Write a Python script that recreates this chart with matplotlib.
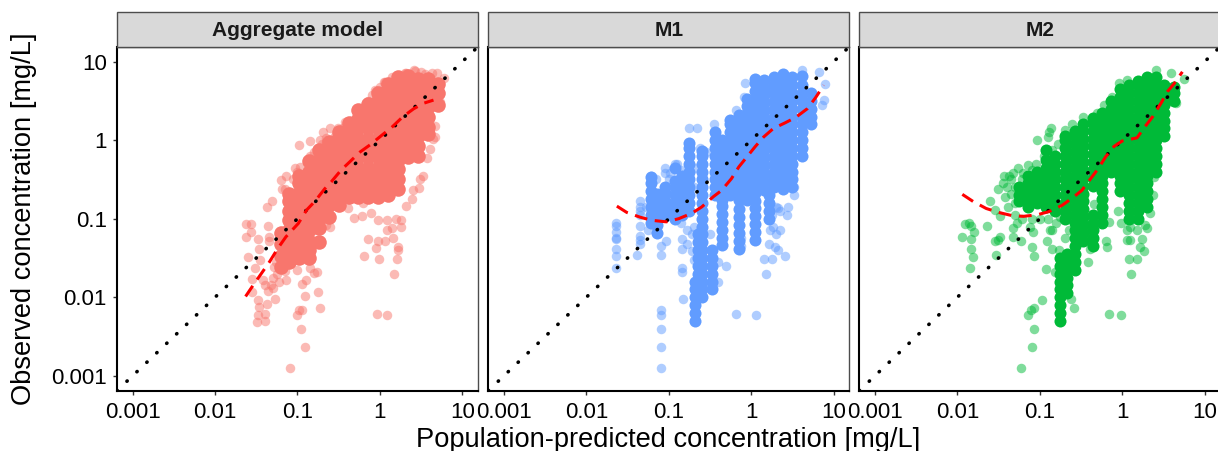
import matplotlib
matplotlib.use("Agg")
import matplotlib.pyplot as plt
from matplotlib.patches import Rectangle

plt.rcParams['font.family'] = ['Liberation Sans', 'DejaVu Sans']

# All concentrations below are log10(mg/L).
panel_titles = ["Aggregate model", "M1", "M2"]
panel_colors = ["#F8766D", "#619CFF", "#00BA38"]
tick_values = [0.001, 0.01, 0.1, 1, 10]
tick_labels = ["0.001", "0.01", "0.1", "1", "10"]
x_title = "Population-predicted concentration [mg/L]"
y_title = "Observed concentration [mg/L]"
axis_low, axis_high = -3.19, 1.19

# Single, visible points
agg_x = [-1.63,-1.57,-1.57,-1.63,-1.48,-1.47,-1.60,-1.46,-1.52,-1.55,-1.55,-1.48,-1.47,-1.48,-1.49,-1.39,-1.40,-1.37,-1.27,-1.36,-1.34,-1.35,-1.31,-1.37,-0.98,-0.85,-1.20,-1.14,-1.19,-1.03,-0.91,-0.95,-0.90,-0.75,-0.73,-0.98,-0.94,-1.00,-0.96,-0.91,-1.09,-0.03,0.09,-0.15,-0.19,-0.01,-0.05,-0.02,0.06,0.17,0.21,0.22,0.22,0.16,0.08,0.15,0.20,0.26,0.26,0.09,-0.02,-0.11,-0.22,-0.32,0.32,0.39,0.40,0.47,0.52,0.49,0.57,0.61,0.67,0.64,0.67,-0.80,-0.76,-0.85,-1.01,-1.14,-1.15,-0.61,-0.65,-0.51,-0.39,-0.21,-0.69,-0.60,-0.51,-0.42,-0.66,-0.73,-0.86,-0.75,-0.97,-0.20,-0.06,0.06,0.41,0.32,0.22,0.63,0.69,0.78,0.73,0.71,-1.40,-1.36,-1.32,-1.30,-1.28,-1.30,-1.42,-1.26,-1.25,-1.22,-1.15,-1.12,-1.05,-1.00,-0.95,-0.85,-0.80,-0.70,-0.65,-0.55,-0.45,-0.35,-0.15,-0.10,0.00,0.05,0.15,0.50,0.55,0.30,0.42]
agg_y = [-1.07,-1.07,-1.17,-1.23,-1.26,-1.39,-1.49,-1.53,-1.63,-1.77,-1.93,-2.04,-2.12,-2.23,-2.32,-2.30,-2.21,-2.08,-2.02,-1.09,-1.23,-1.29,-0.78,-0.85,-0.06,-0.01,-0.51,-0.45,-0.62,-0.35,-1.99,-1.83,-1.78,-1.93,-2.14,-2.16,-2.16,-2.23,-2.40,-2.63,-2.90,-2.21,-2.23,-1.26,-1.48,-1.51,-1.37,-1.29,-1.28,-1.70,-1.51,-1.40,-1.36,-1.25,-1.15,-1.12,-1.00,-1.11,-1.02,-1.02,-1.02,-0.93,-0.96,-0.99,-0.84,-0.75,-0.64,-0.61,-0.45,-0.49,-0.23,-0.11,0.04,0.01,0.18,-1.69,-1.68,-1.63,-1.65,-1.78,-1.67,-1.11,-1.08,-0.85,-0.87,-0.80,0.11,0.16,0.16,0.23,0.03,0.00,-0.25,-0.13,-0.34,0.40,0.64,0.74,0.89,0.85,0.81,0.85,0.86,0.79,0.49,0.59,-1.85,-1.92,-1.85,-1.75,-1.62,-1.88,-1.78,-1.55,-1.70,-1.80,-0.62,-0.70,-0.50,-0.40,-0.50,-0.20,-0.15,-0.05,-0.02,0.05,0.15,0.25,0.50,0.58,0.68,0.74,0.80,0.87,0.84,0.86,0.88]

# Overplotted solid mass, one column of values per predicted concentration
agg_core_x = [-1.20,-1.10,-0.98,-0.86,-0.74,-0.62,-0.50,-0.38,-0.26,-0.14,-0.02,0.10,0.22,0.34,0.46,0.58,0.70]
agg_core_y = [
    [-1.62,-1.48,-1.32,-1.18],
    [-1.55,-1.40,-1.27,-1.15,-1.02,-0.90,-0.78,-0.68],
    [-1.50,-1.42,-1.30,-1.17,-1.05,-0.92,-0.80,-0.67,-0.55,-0.45],
    [-1.50,-1.40,-1.28,-1.15,-1.03,-0.90,-0.78,-0.65,-0.53,-0.40,-0.27],
    [-1.30,-1.12,-1.00,-0.87,-0.75,-0.62,-0.50,-0.38,-0.25,-0.12],
    [-0.98,-0.83,-0.70,-0.58,-0.45,-0.33,-0.20,-0.10,-0.02],
    [-0.82,-0.68,-0.55,-0.43,-0.30,-0.18,-0.06,0.04,0.10],
    [-0.72,-0.60,-0.47,-0.35,-0.22,-0.10,0.02,0.12,0.22],
    [-0.72,-0.60,-0.47,-0.35,-0.22,-0.10,0.02,0.15,0.27,0.38],
    [-0.72,-0.60,-0.47,-0.35,-0.22,-0.10,0.02,0.15,0.27,0.36,0.46],
    [-0.72,-0.60,-0.47,-0.35,-0.22,-0.10,0.02,0.15,0.27,0.40,0.50,0.60],
    [-0.70,-0.58,-0.45,-0.33,-0.20,-0.08,0.05,0.17,0.30,0.42,0.54,0.62,0.72],
    [-0.62,-0.50,-0.37,-0.25,-0.12,0.00,0.13,0.25,0.38,0.50,0.62,0.70,0.80],
    [-0.22,-0.12,0.00,0.13,0.25,0.38,0.50,0.62,0.74,0.82],
    [-0.20,-0.08,0.05,0.17,0.30,0.42,0.55,0.67,0.78],
    [0.08,0.17,0.30,0.42,0.55,0.67,0.78],
    [0.45,0.60,0.72],
]
agg_line_x = [-1.63,-1.54,-1.44,-1.34,-1.24,-1.14,-0.99,-0.89,-0.79,-0.67,-0.59,-0.47,-0.37,-0.24,-0.12,0.02,0.14,0.28,0.41,0.53,0.65]
agg_line_y = [-1.99,-1.85,-1.70,-1.55,-1.38,-1.23,-1.06,-0.89,-0.78,-0.62,-0.53,-0.38,-0.28,-0.15,-0.06,0.06,0.16,0.30,0.40,0.47,0.51]

m1_x = [-1.64,-1.64,-1.64,-1.64,-1.64,-1.64,-1.64,-1.64,-1.35,-1.35,-1.35,-1.35,-1.35,-1.35,-1.35,-1.35,-1.39,-1.09,-1.09,-1.09,-1.09,-1.09,-1.09,-1.09,-1.04,-0.83,-0.84,-0.84,-0.84,-0.84,-0.78,-0.72,-0.69,-0.18,0.06,0.18,0.16,0.25,0.41,0.32,0.29,0.21,0.23,0.35,0.43,0.33,0.52,-0.08,-0.09,-0.19,-0.66,-0.75,-0.45,0.62,0.82,0.88,0.86,0.90,-1.25,-1.15,-0.64,-0.90,-1.05,-1.05,-1.22,-1.28,-1.15,-1.00,-0.98,-0.92,-0.85,-0.70,-0.68,-0.62,-0.55,-0.40,-0.30,-0.40,-0.50,-0.72,-0.70,-0.78,-0.85,-0.12,-0.12,0.30,0.27,0.35,0.45,0.52,0.30,0.25]
m1_y = [-1.06,-1.09,-1.17,-1.24,-1.26,-1.39,-1.48,-1.63,-0.78,-0.85,-0.90,-0.95,-1.09,-1.22,-1.27,-1.32,-1.46,-2.16,-2.23,-2.40,-2.63,-2.90,-1.35,-1.46,-1.29,-2.02,-1.63,-1.68,-1.26,-1.39,-1.32,-1.41,-1.53,-2.21,-2.23,-1.70,-1.51,-1.51,-1.48,-1.40,-1.36,-1.32,-1.15,-1.15,-0.95,-0.87,-0.70,0.73,0.55,0.38,0.16,0.15,0.21,0.89,0.87,0.51,0.45,0.72,-1.15,-1.10,-1.32,-0.30,-0.36,-0.42,-0.45,-0.85,-0.50,-0.50,-0.42,-0.30,-0.38,-0.60,-0.35,-0.10,-0.15,-1.55,-1.60,-1.80,-1.20,-1.20,-1.10,-1.15,-1.05,-1.25,-1.35,-1.20,-1.10,-0.90,-0.85,-0.60,-0.85,-0.95]
m1_core_x = [-1.22,-1.14,-1.05,-0.92,-0.84,-0.75,-0.68,-0.64,-0.60,-0.48,-0.44,-0.35,-0.26,-0.15,-0.05,0.05,0.16,0.21,0.28,0.39,0.50,0.62,0.72]
m1_core_y = [
    [-1.05,-0.95,-0.85,-0.75,-0.65,-0.55,-0.47],
    [-1.18,-1.08,-0.98,-0.88,-0.78,-0.68],
    [-0.97,-0.87,-0.77,-0.67,-0.60],
    [-1.00,-0.90,-0.80,-0.70,-0.60,-0.52,-0.36],
    [-0.95,-0.85,-0.75,-0.65,-0.55,-0.45],
    [-0.90,-0.80,-0.70,-0.60,-0.50,-0.40,-0.30,-0.20,-0.10,-0.04],
    [-2.30,-2.20,-2.10,-2.00,-1.90,-1.80],
    [-1.90,-1.80,-1.70,-1.60,-1.50,-1.40,-1.30,-1.20],
    [-2.00,-1.90,-1.80,-1.70,-1.60,-1.50,-1.40,-1.30,-1.20,-1.10,-1.00,-0.90,-0.80,-0.70,-0.60,-0.50,-0.40,-0.30,-0.20,-0.14],
    [-1.90,-1.80,-1.70,-1.60,-1.50,-1.40],
    [-0.70,-0.60,-0.50,-0.40,-0.30,-0.20,-0.10,0.00,0.10],
    [-1.34,-1.24,-1.14,-1.04,-0.94,-0.84,-0.76,-0.68,-0.58,-0.48,-0.38,-0.28,-0.18,-0.08,0.00],
    [-0.70,-0.60,-0.50,-0.40,-0.30,-0.20,-0.10,0.00,0.10,0.20,0.26],
    [-1.38,-1.28,-1.18,-1.08,-0.98,-0.88,-0.76,-0.66,-0.56,-0.46,-0.36,-0.26,-0.16,-0.06,0.04,0.14,0.24,0.32],
    [-0.76,-0.66,-0.56,-0.46,-0.36,-0.26,-0.16,-0.06,0.04,0.14,0.24,0.34,0.44,0.52],
    [-1.27,-1.17,-1.07,-0.97,-0.87,-0.77,-0.67,-0.57,-0.47,-0.37,-0.27,-0.17,-0.07,0.03,0.13,0.23,0.33,0.43,0.53,0.63,0.73,0.78],
    [-0.63,-0.53,-0.43,-0.33,-0.23,-0.13,-0.03,0.07,0.17,0.27,0.37,0.47,0.57,0.67,0.76],
    [-1.00,-0.90,-0.80,-0.70],
    [-0.60,-0.50,-0.40,-0.30,-0.20,-0.10,0.00,0.10,0.20,0.30,0.40,0.50,0.60,0.70,0.80],
    [-0.62,-0.52,-0.42,-0.32,-0.22,-0.12,-0.02,0.08,0.18,0.28,0.38,0.48,0.58,0.68,0.78,0.84],
    [-0.60,-0.50,-0.40,-0.30,-0.20,-0.10,0.00,0.10,0.20,0.30,0.40,0.50,0.60,0.70,0.80],
    [-0.20,-0.10,0.00,0.10,0.20,0.30,0.40,0.50,0.60,0.70,0.82],
    [0.20,0.30,0.40,0.50,0.60],
]
m1_line_x = [-1.63,-1.51,-1.35,-1.21,-1.03,-0.88,-0.72,-0.60,-0.46,-0.36,-0.24,-0.15,-0.05,0.05,0.15,0.27,0.41,0.54,0.68,0.78,0.88]
m1_line_y = [-0.84,-0.92,-0.98,-1.02,-1.04,-1.00,-0.93,-0.85,-0.72,-0.64,-0.49,-0.34,-0.21,-0.08,0.04,0.15,0.22,0.29,0.40,0.54,0.70]

m2_x = [-1.91,-1.86,-1.83,-1.80,-1.94,-1.84,-1.83,-1.81,-1.85,-1.64,-1.61,-1.54,-1.48,-1.51,-1.43,-1.37,-1.33,-1.27,-1.14,-1.03,-0.90,-0.87,-0.89,-1.48,-1.54,-1.51,-1.53,-1.32,-1.23,-1.10,-1.07,-1.08,-1.12,-0.88,-0.91,-0.85,-0.77,-0.92,-0.82,-0.97,-1.07,-1.11,-1.14,-1.07,-1.09,-1.23,-0.16,-0.01,-0.59,-0.62,0.11,0.18,0.08,0.26,0.22,0.24,0.06,0.10,0.06,0.30,0.34,0.37,0.39,-0.19,-0.20,-0.39,-0.16,-0.24,-0.34,-0.04,0.06,-0.12,-0.22,-0.30,-0.47,-0.61,-0.69,0.41,0.59,0.75,0.65,0.61,-1.45,-1.40,-1.35,-1.42,-1.35,-1.30,-1.30,-1.38,-1.30,-1.22,-1.28,-1.33,-1.22,-1.20,-1.10,-1.05,-0.95,-0.85,-0.78,-0.90,-0.80,-0.85,-1.00,-1.10,-0.75,-0.65,-0.70,-0.42,-0.05,-0.02,0.10,0.18,0.28]
m2_y = [-1.07,-1.06,-1.09,-1.17,-1.23,-1.26,-1.39,-1.49,-1.63,-1.09,-0.78,-0.89,-0.96,-0.62,-0.45,-0.45,-0.42,-0.35,-0.32,0.00,0.04,0.15,0.11,-1.23,-1.29,-1.27,-1.46,-1.23,-1.29,-1.36,-1.47,-1.17,-1.10,-1.14,-1.29,-1.38,-1.40,-1.64,-1.68,-2.03,-2.14,-2.16,-2.23,-2.40,-2.63,-2.90,-2.21,-2.23,-2.14,-2.02,-1.70,-1.51,-1.51,-1.41,-1.36,-1.26,-1.27,-1.27,-1.15,-1.12,-0.93,-0.70,-0.47,-1.36,-1.29,-1.38,-1.04,-0.89,-0.81,0.73,0.77,0.55,0.45,0.34,0.30,0.20,0.13,0.89,0.86,0.78,0.47,0.57,-0.55,-0.60,-0.50,-0.72,-0.68,-0.60,-0.80,-0.85,-0.95,-1.00,-1.05,-1.12,-0.50,-0.42,-0.38,-0.30,-0.20,-0.12,-0.05,-1.00,-1.05,-1.15,-1.00,-1.00,-0.98,-1.15,-1.25,-1.55,-0.90,-1.05,-1.10,-1.15,-1.08]
m2_core_x = [-1.25,-1.14,-1.03,-0.92,-0.81,-0.76,-0.70,-0.67,-0.57,-0.48,-0.36,-0.25,-0.14,-0.03,0.08,0.19,0.30,0.41,0.51,0.63]
m2_core_y = [
    [-0.78,-0.70,-0.60],
    [-0.85,-0.75,-0.65,-0.55,-0.45],
    [-0.80,-0.70,-0.60,-0.50,-0.40],
    [-0.85,-0.75,-0.65,-0.55,-0.45,-0.35,-0.25,-0.12],
    [-0.90,-0.80,-0.70,-0.60,-0.50,-0.40,-0.30,-0.20],
    [-2.30,-2.20,-2.10,-2.00,-1.90,-1.80,-1.70,-1.60,-1.50],
    [-1.00,-0.90,-0.80,-0.70,-0.60,-0.50,-0.40,-0.30,-0.20,-0.10,0.00,0.05],
    [-1.95,-1.85,-1.75,-1.65,-1.55,-1.45],
    [-1.65,-1.55,-1.45,-1.35,-1.25,-1.15,-1.05,-0.95,-0.85,-0.75,-0.65,-0.55,-0.45,-0.35,-0.25,-0.15,-0.05,0.05,0.12],
    [-1.28,-1.18,-1.08,-0.98,-0.88,-0.78,-0.68,-0.58,-0.48,-0.38,-0.28,-0.18,-0.08,0.02,0.12,0.20],
    [-1.35,-1.25,-1.15,-1.05,-0.95,-0.58,-0.48,-0.38,-0.28,-0.18,-0.08,0.02,0.12,0.22,0.28],
    [-1.05,-0.95,-0.85,-0.75,-0.65,-0.55,-0.45,-0.35,-0.25,-0.15,-0.05,0.05,0.15,0.25,0.35],
    [-0.40,-0.30,-0.20,-0.10,0.00,0.10,0.20,0.30,0.40,0.50],
    [-0.65,-0.55,-0.45,-0.35,-0.25,-0.15,-0.05,0.05,0.15,0.25,0.35,0.45,0.55,0.65],
    [-1.00,-0.90,-0.80,-0.70,-0.60,-0.50,-0.40,-0.30,-0.20,-0.10,0.00,0.10,0.20,0.30,0.40,0.50,0.60,0.70],
    [-1.00,-0.90,-0.80,-0.70,-0.60,-0.50,-0.40,-0.30,-0.20,-0.10,0.00,0.10,0.20,0.30,0.40,0.50,0.60,0.70,0.75],
    [-0.85,-0.75,-0.65,-0.55,-0.45,-0.35,-0.25,-0.15,-0.05,0.05,0.15,0.25,0.35,0.45,0.55,0.65,0.75,0.80],
    [-0.40,-0.30,-0.20,-0.10,0.00,0.10,0.20,0.30,0.40,0.50,0.60,0.70,0.80],
    [0.05,0.15,0.25,0.35,0.45,0.55,0.65,0.70],
    [0.50,0.60,0.68],
]
m2_line_x = [-1.94,-1.81,-1.65,-1.50,-1.34,-1.20,-1.03,-0.89,-0.73,-0.61,-0.49,-0.39,-0.29,-0.20,-0.10,0.00,0.18,0.26,0.37,0.47,0.55,0.63,0.73]
m2_line_y = [-0.69,-0.78,-0.87,-0.92,-0.96,-0.97,-0.95,-0.91,-0.83,-0.74,-0.64,-0.50,-0.36,-0.21,-0.08,-0.01,0.03,0.15,0.30,0.47,0.62,0.72,0.87]

point_x = [agg_x, m1_x, m2_x]
point_y = [agg_y, m1_y, m2_y]
core_x = [agg_core_x, m1_core_x, m2_core_x]
core_y = [agg_core_y, m1_core_y, m2_core_y]
line_x = [agg_line_x, m1_line_x, m2_line_x]
line_y = [agg_line_y, m1_line_y, m2_line_y]

W, H = 1218, 451
fig = plt.figure(figsize=(W / 100, H / 100), dpi=100)
lefts = [117, 488.3, 859.3]
pw, top, bottom = 361, 46.7, 390.7
border = "#4D4D4D"

for i, left in enumerate(lefts):
    ax = fig.add_axes([left / W, 1 - bottom / H, pw / W, (bottom - top) / H])
    ax.set_xscale("log")
    ax.set_yscale("log")
    ax.set_xlim(10 ** axis_low, 10 ** axis_high)
    ax.set_ylim(10 ** axis_low, 10 ** axis_high)

    ax.scatter([10 ** v for v in point_x[i]], [10 ** v for v in point_y[i]],
               s=47, color=panel_colors[i], alpha=0.5, linewidths=0, zorder=2)
    cx = [10 ** x for x, ys in zip(core_x[i], core_y[i]) for _ in ys]
    cy = [10 ** y for ys in core_y[i] for y in ys]
    ax.scatter(cx, cy, s=(110 if i == 0 else 75), color=panel_colors[i], linewidths=0, zorder=3)

    ax.plot([10 ** axis_low, 10 ** axis_high], [10 ** axis_low, 10 ** axis_high],
            color="black", lw=2.6, linestyle=(0, (0.1, 3.7)),
            dash_capstyle="round", zorder=4)
    ax.plot([10 ** v for v in line_x[i]], [10 ** v for v in line_y[i]],
            color="red", lw=2.2, linestyle=(0, (4.2, 2.5)), zorder=5)

    ax.set_xticks(tick_values)
    ax.set_xticklabels(tick_labels)
    ax.set_yticks(tick_values)
    ax.set_yticklabels(tick_labels if i == 0 else [])
    ax.minorticks_off()
    ax.tick_params(axis="x", labelsize=16, length=3, width=1, color="#333333", pad=5, labelcolor="black")
    ax.tick_params(axis="y", labelsize=16, length=3 if i == 0 else 0, width=1, color="#333333", pad=4.3, labelcolor="black")
    for name, sp in ax.spines.items():
        sp.set_linewidth(1.5 if name in ("left", "bottom") else 1.0)
        sp.set_color("black" if name in ("left", "bottom") else border)

    strip = Rectangle((left / W, 1 - top / H), pw / W, 34.4 / H, transform=fig.transFigure,
                      facecolor="#D9D9D9", edgecolor=border, linewidth=1.0, clip_on=False)
    fig.add_artist(strip)
    fig.text((left + pw / 2) / W, 1 - 30 / H, panel_titles[i], ha="center", va="center",
             fontsize=15, fontweight="bold", color="#1A1A1A")

fig.text(668 / W, 1 - 447 / H, x_title, ha="center", va="baseline", fontsize=19.6)
fig.text(24 / W, 1 - 219 / H, y_title, ha="center", va="center", rotation=90, fontsize=19.6)
fig.savefig("out.png", dpi=100)
